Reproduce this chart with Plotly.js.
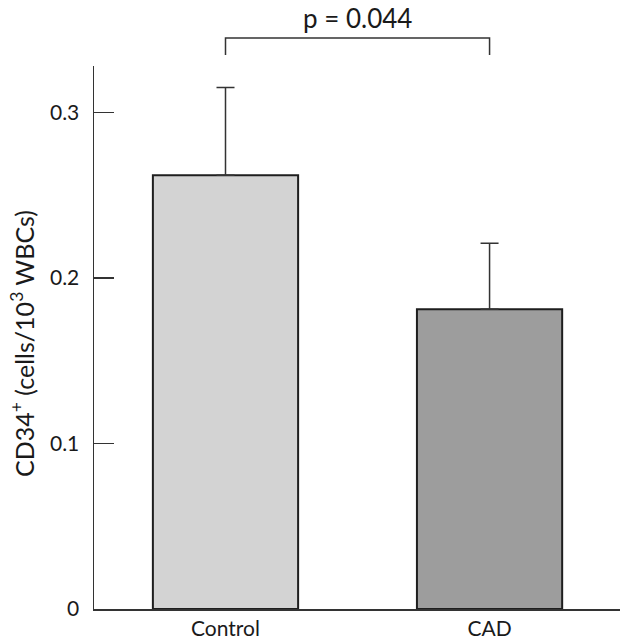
<!DOCTYPE html>
<html>
<head>
<meta charset="utf-8">
<script src="https://cdn.plot.ly/plotly-3.0.1.min.js"></script>
<style>html,body{margin:0;padding:0;background:#fff;}#chart{width:620px;height:639px;}</style>
</head>
<body>
<div id="chart"></div>
<script>
const categories = ['Control', 'CAD'];
const means = [0.262, 0.181];
const errorsUp = [0.053, 0.040];
const barColors = ['#d3d3d3', '#9d9d9d'];
const yTickValues = [0, 0.1, 0.2, 0.3];
const yTickLabels = ['0', '0.1', '0.2', '0.3'];
const pValueText = 'p = 0.044';
const yTitle = 'CD34<sup>+</sup> (cells/10<sup>3</sup> WBCs)';

const FONT = 'Lato, "Open Sans", sans-serif';

const trace = {
  type: 'bar',
  x: categories,
  y: means,
  width: 0.55,
  marker: { color: barColors, line: { color: '#1e1e1e', width: 2 } },
  error_y: {
    type: 'data', symmetric: false,
    array: errorsUp, arrayminus: [0, 0],
    color: '#333', thickness: 1.5, width: 9
  },
  hoverinfo: 'none'
};

const layout = {
  width: 620, height: 639,
  margin: { l: 94, r: 0, t: 66, b: 30, pad: 0 },
  paper_bgcolor: '#fff', plot_bgcolor: '#fff',
  showlegend: false,
  font: { family: FONT, color: '#1a1a1a', size: 20 },
  xaxis: {
    type: 'category',
    range: [-0.498, 1.494],
    showline: true, linecolor: '#333', linewidth: 1.5,
    ticks: '', showgrid: false, zeroline: false,
    tickfont: { family: FONT, size: 21, color: '#1a1a1a' },
    fixedrange: true
  },
  yaxis: {
    range: [0, 0.328],
    tickvals: yTickValues, ticktext: yTickLabels,
    ticks: 'inside', ticklen: 20, tickwidth: 1.5, tickcolor: '#333',
    showline: true, linecolor: '#333', linewidth: 1.5,
    showgrid: false, zeroline: false,
    ticklabelstandoff: 9,
    tickfont: { family: FONT, size: 21, color: '#1a1a1a' },
    fixedrange: true
  },
  shapes: [
    { type: 'path', xref: 'x', yref: 'paper',
      path: 'M 0,1.0201 L 0,1.0515 L 1,1.0515 L 1,1.0201',
      line: { color: '#333', width: 1.5 } }
  ],
  annotations: [
    { xref: 'x', yref: 'paper', x: 0.5, y: 1.088, text: pValueText,
      showarrow: false, xanchor: 'center', yanchor: 'middle',
      font: { family: FONT, size: 26, color: '#1a1a1a' } },
    { xref: 'paper', yref: 'paper', x: -0.135, y: 0.49, text: yTitle,
      textangle: -90, showarrow: false, xanchor: 'center', yanchor: 'middle',
      font: { family: FONT, size: 25, color: '#1a1a1a' } }
  ]
};

Plotly.newPlot('chart', [trace], layout, { displayModeBar: false, staticPlot: true });
</script>
</body>
</html>
